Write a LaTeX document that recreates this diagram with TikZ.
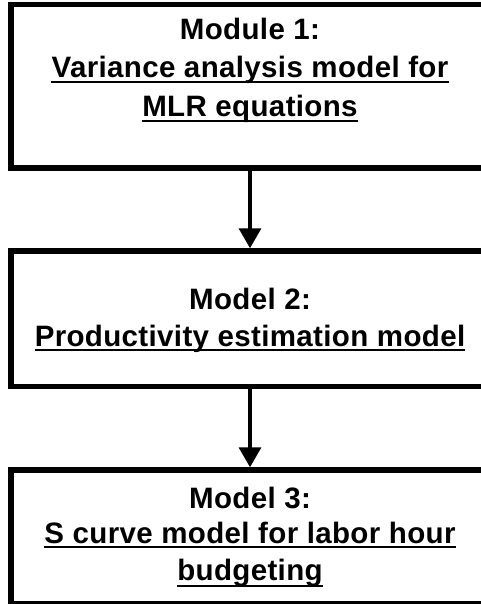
\documentclass[tikz,border=0pt]{standalone}
\usepackage{fontspec}
\setmainfont{Liberation Sans}[LetterSpace=1.2]
\usetikzlibrary{arrows.meta}

\tikzset{
  modbox/.style={draw=black, line width=5.5pt, rectangle, inner sep=0pt,
    minimum width=478pt, fill=white},
  txt/.style={anchor=base, inner sep=0pt,
    font=\bfseries\fontsize{29.5}{35}\selectfont},
  uline/.style={line width=2.4pt, line cap=butt},
  flow/.style={line width=3.5pt,
    -{Triangle[length=20pt,width=22pt]}},
}

\begin{document}
\begin{tikzpicture}[x=1pt, y=-1pt]
\useasboundingbox (0,0) rectangle (481,604);
\clip (0,0) rectangle (481,604);
\fill[white] (0,0) rectangle (481,604);

% the three stages
\node[modbox, minimum height=163.5pt] (m1) at (250,86.25) {};
\node[modbox, minimum height=135.5pt] (m2) at (250,318.75) {};
\node[modbox, minimum height=133.5pt] (m3) at (250,536.75) {};

% stage 1
\node[txt] (h1) at (250,40) {Module 1:};
\node[txt] (a1) at (250,78) {Variance analysis model for};
\node[txt] (b1) at (250,117) {MLR equations};

% stage 2
\node[txt] (h2) at (250,309) {Model 2:};
\node[txt] (a2) at (250,346) {Productivity estimation model};

% stage 3
\node[txt] (h3) at (250,508) {Model 3:};
\node[txt] (a3) at (250,543) {S curve model for labor hour};
\node[txt] (b3) at (250,580) {budgeting};

% underlined titles
\foreach \t in {a1,b1,a2,a3}
  \draw[uline] ([yshift=-4pt]\t.base west) -- ([yshift=-4pt]\t.base east);
\draw[uline] ([yshift=-6pt]b3.base west) -- ([yshift=-6pt]b3.base east);

% connectors
\draw[flow] (m1.south) -- (m2.north);
\draw[flow] (m2.south) -- (m3.north);
\end{tikzpicture}
\end{document}
